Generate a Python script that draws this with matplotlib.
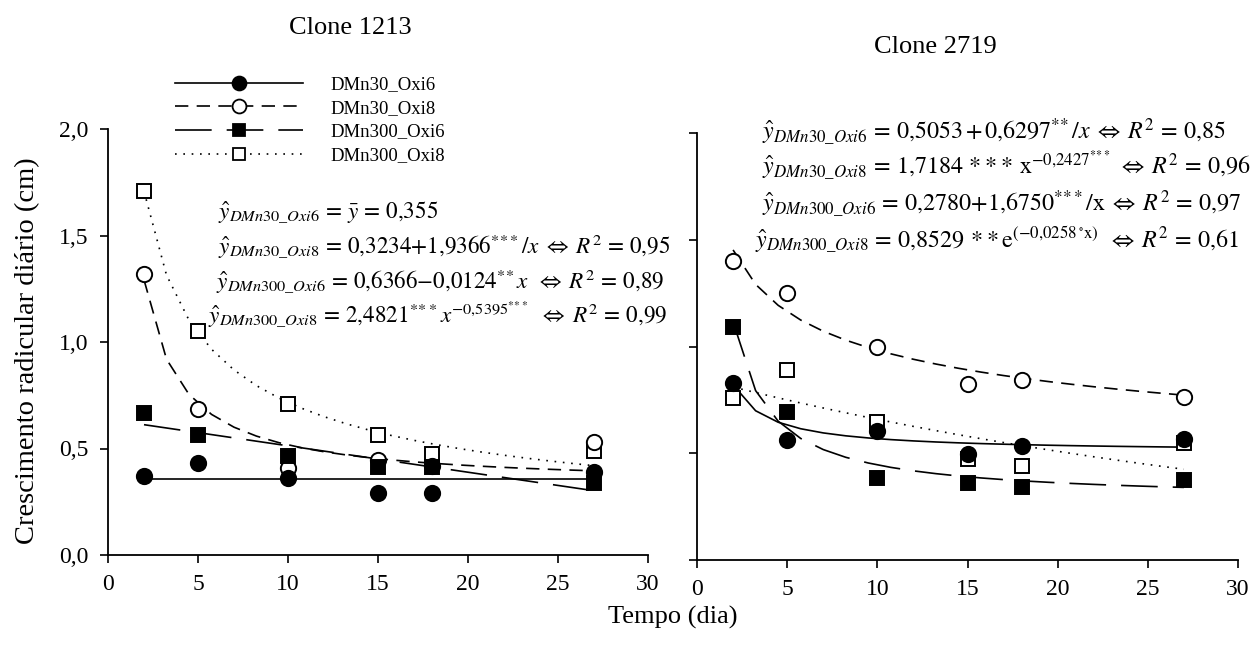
import numpy as np
import matplotlib
matplotlib.use('Agg')
import matplotlib.pyplot as plt
from matplotlib.lines import Line2D
from matplotlib.ticker import FuncFormatter, MultipleLocator

plt.rcParams['font.family'] = ['Liberation Serif', 'DejaVu Serif']
plt.rcParams['mathtext.fontset'] = 'stix'

# ---------------- data ----------------
days = [2, 5, 10, 15, 18, 27]
series_names = ['DMn30_Oxi6', 'DMn30_Oxi8', 'DMn300_Oxi6', 'DMn300_Oxi8']
panel_titles = ['Clone 1213', 'Clone 2719']

c1213_dmn30_oxi6 = [0.37, 0.43, 0.36, 0.29, 0.29, 0.39]
c1213_dmn30_oxi8 = [1.32, 0.685, 0.41, 0.445, 0.42, 0.53]
c1213_dmn300_oxi6 = [0.667, 0.565, 0.465, 0.413, 0.413, 0.34]
c1213_dmn300_oxi8 = [1.71, 1.05, 0.71, 0.563, 0.474, 0.49]

c2719_dmn30_oxi6 = [0.83, 0.56, 0.605, 0.495, 0.535, 0.565]
c2719_dmn30_oxi8 = [1.40, 1.25, 1.00, 0.825, 0.845, 0.765]
c2719_dmn300_oxi6 = [1.09, 0.695, 0.385, 0.36, 0.34, 0.375]
c2719_dmn300_oxi8 = [0.76, 0.89, 0.645, 0.475, 0.44, 0.55]

# regression coefficients printed on the chart
c1213_fit_dmn30_oxi6 = [0.355]              # mean
c1213_fit_dmn30_oxi8 = [0.3234, 1.9366]     # a + b/x
c1213_fit_dmn300_oxi6 = [0.6366, -0.0124]   # a + b*x
c1213_fit_dmn300_oxi8 = [2.4821, -0.5395]   # a * x^b

c2719_fit_dmn30_oxi6 = [0.5053, 0.6297]     # a + b/x
c2719_fit_dmn30_oxi8 = [1.7184, -0.2427]    # a * x^b
c2719_fit_dmn300_oxi6 = [0.2780, 1.6750]    # a + b/x
c2719_fit_dmn300_oxi8 = [0.8529, -0.0258]   # a * exp(b*x)

EQ = r'\,{=}\,'
IFF = r'\;{\Leftrightarrow}\;'
S3 = r'^{*\!*\!*}'
S2 = r'^{*\!*}'

eq_1213 = [
    r'$\hat{y}_{DMn30\_Oxi6}' + EQ + r'\bar{y}' + EQ + r'0{,}355$',
    r'$\hat{y}_{DMn30\_Oxi8}' + EQ + r'0{,}3234{+}1{,}9366' + S3 + r'/x' + IFF + r'R^2' + EQ + r'0{,}95$',
    r'$\hat{y}_{DMn300\_Oxi6}' + EQ + r'0{,}6366\mathrm{-}0{,}0124' + S2 + r'x\;' + IFF + r'R^2' + EQ + r'0{,}89$',
    r'$\hat{y}_{DMn300\_Oxi8}' + EQ + r'2{,}4821' + S3 + r'x^{-0{,}5395' + S3 + r'}\;' + IFF + r'R^2' + EQ + r'0{,}99$',
]
eq_2719 = [
    r'$\hat{y}_{DMn30\_Oxi6}' + EQ + r'0{,}5053\,{+}\,0{,}6297' + S2 + r'/x' + IFF + r'R^2' + EQ + r'0{,}85$',
    r'$\hat{y}_{DMn30\_Oxi8}' + EQ + r'1{,}7184\,*\!*\!*\,\mathrm{x}^{-0{,}2427' + S3 + r'}' + IFF + r'R^2' + EQ + r'0{,}96$',
    r'$\hat{y}_{DMn300\_Oxi6}' + EQ + r'0{,}2780{+}1{,}6750' + S3 + r'/\mathrm{x}' + IFF + r'R^2' + EQ + r'0{,}97$',
    r'$\hat{y}_{DMn300\_Oxi8}' + EQ + r'0{,}8529\,*\!*\mathrm{e}^{(-0{,}0258\,{}^{\circ}\mathrm{x})}\;' + IFF + r'R^2' + EQ + r'0{,}61$',
]

# ---------------- styles ----------------
W, H = 1256, 655
lw = 1.2
styles = {
    'DMn30_Oxi6': dict(ls='-', marker='o', mfc='black', ms=11),
    'DMn30_Oxi8': dict(ls=(0, (8, 5)), marker='o', mfc='white', ms=11),
    'DMn300_Oxi6': dict(ls=(0, (22, 9)), marker='s', mfc='black', ms=10),
    'DMn300_Oxi8': dict(ls=(0, (1, 4)), marker='s', mfc='white', ms=10),
}

fig = plt.figure(figsize=(W / 100, H / 100), dpi=100)
ax1 = fig.add_axes([108 / W, 1 - 555 / H, 540 / W, 426 / H])
ax2 = fig.add_axes([697 / W, 1 - 560 / H, 541 / W, 427 / H])

xg = np.linspace(2, 27, 21)

def fits_1213(x):
    return {
        'DMn30_Oxi6': np.full_like(x, c1213_fit_dmn30_oxi6[0]),
        'DMn30_Oxi8': c1213_fit_dmn30_oxi8[0] + c1213_fit_dmn30_oxi8[1] / x,
        'DMn300_Oxi6': c1213_fit_dmn300_oxi6[0] + c1213_fit_dmn300_oxi6[1] * x,
        'DMn300_Oxi8': c1213_fit_dmn300_oxi8[0] * x ** c1213_fit_dmn300_oxi8[1],
    }

def fits_2719(x):
    return {
        'DMn30_Oxi6': c2719_fit_dmn30_oxi6[0] + c2719_fit_dmn30_oxi6[1] / x,
        'DMn30_Oxi8': c2719_fit_dmn30_oxi8[0] * x ** c2719_fit_dmn30_oxi8[1],
        'DMn300_Oxi6': c2719_fit_dmn300_oxi6[0] + c2719_fit_dmn300_oxi6[1] / x,
        'DMn300_Oxi8': c2719_fit_dmn300_oxi8[0] * np.exp(c2719_fit_dmn300_oxi8[1] * x),
    }

obs_1213 = dict(zip(series_names, [c1213_dmn30_oxi6, c1213_dmn30_oxi8,
                                   c1213_dmn300_oxi6, c1213_dmn300_oxi8]))
obs_2719 = dict(zip(series_names, [c2719_dmn30_oxi6, c2719_dmn30_oxi8,
                                   c2719_dmn300_oxi6, c2719_dmn300_oxi8]))

zorders = {'DMn300_Oxi8': 3, 'DMn30_Oxi8': 4, 'DMn300_Oxi6': 5, 'DMn30_Oxi6': 6}

for ax, obs, fits in [(ax1, obs_1213, fits_1213(xg)), (ax2, obs_2719, fits_2719(xg))]:
    for name in series_names:
        st = styles[name]
        ax.plot(xg, fits[name], color='black', lw=lw, ls=st['ls'], zorder=2)
        ax.plot(days, obs[name], ls='none', marker=st['marker'], ms=st['ms'],
                mfc=st['mfc'], mec='black', mew=1.4, zorder=zorders[name], clip_on=False)
    ax.set_xlim(0, 30)
    ax.set_ylim(0, 2.0)
    ax.xaxis.set_major_locator(MultipleLocator(5))
    ax.yaxis.set_major_locator(MultipleLocator(0.5))
    for s in ['top', 'right']:
        ax.spines[s].set_visible(False)
    for s in ['left', 'bottom']:
        ax.spines[s].set_linewidth(1.3)
    ax.tick_params(direction='out', length=6, width=1.2, labelsize=17, pad=8)

ax1.yaxis.set_major_formatter(FuncFormatter(lambda v, p: f'{v:.1f}'.replace('.', ',')))
ax2.tick_params(axis='y', labelleft=False)

# titles and axis labels
fig.text(350 / W, 1 - 28 / H, panel_titles[0], ha='center', va='center', fontsize=19)
fig.text(935 / W, 1 - 47 / H, panel_titles[1], ha='center', va='center', fontsize=19)
fig.text(28 / W, 1 - 351 / H, 'Crescimento radicular diário (cm)', rotation=90,
         ha='center', va='center', fontsize=20.5)
fig.text(673 / W, 1 - 617 / H, 'Tempo (dia)', ha='center', va='center', fontsize=19)

# equations
for txt, (px, py) in zip(eq_1213, [(218, 218), (218, 254), (216, 289), (208, 323)]):
    fig.text(px / W, 1 - py / H, txt, ha='left', va='baseline', fontsize=16.7)
for txt, (px, py) in zip(eq_2719, [(762, 139), (762, 175), (762, 211), (755, 247)]):
    fig.text(px / W, 1 - py / H, txt, ha='left', va='baseline', fontsize=17.3)

# legend
handles = [Line2D([], [], color='black', lw=lw, ls=styles[n]['ls'], marker=styles[n]['marker'],
                  ms=styles[n]['ms'] - 1, mfc=styles[n]['mfc'], mec='black', mew=1.3)
           for n in series_names]
fig.legend(handles, series_names, loc='upper left', bbox_to_anchor=(175 / W, 1 - 76 / H),
           frameon=False, fontsize=13.5, handlelength=6.8, handletextpad=1.5,
           labelspacing=0.35, borderpad=0, borderaxespad=0, numpoints=1)

fig.savefig('out.png', dpi=100)
